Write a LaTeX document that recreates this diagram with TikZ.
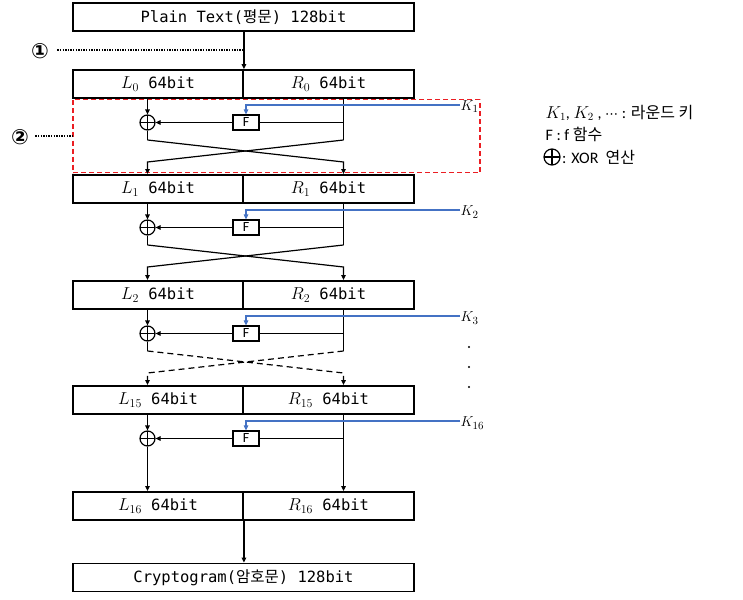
\documentclass[tikz,border=0pt]{standalone}
\usepackage{fontspec}
\setmainfont{Carlito}
\newfontfamily\krfont{Noto Sans CJK KR}
\newfontfamily\monofont{DejaVu Sans Mono}
\newfontfamily\symfont{DejaVu Sans}
\usetikzlibrary{arrows.meta}
\definecolor{keyblue}{RGB}{68,114,196}
\definecolor{boxred}{RGB}{235,30,35}
\newcommand\bigmath[1]{{\fontsize{17}{20}\selectfont$#1$}}
\begin{document}
\begin{tikzpicture}[x=1pt,y=-1pt,line width=1.2pt,
  arr/.style={-{Triangle[length=5pt,width=4.5pt]}},
  half/.style={draw,line width=1.8pt,minimum height=28pt,inner sep=0pt,
    font=\monofont\fontsize{15.5}{18}\selectfont},
  lhalf/.style={half,minimum width=170pt},
  rhalf/.style={half,minimum width=171pt},
  full/.style={half,minimum width=341pt},
  xor/.style={circle,draw,line width=1.2pt,minimum size=15pt,inner sep=0pt,
    path picture={\draw[line width=1.2pt]
      (path picture bounding box.north) -- (path picture bounding box.south)
      (path picture bounding box.west) -- (path picture bounding box.east);}},
  fbox/.style={draw,line width=1.2pt,minimum width=26pt,minimum height=15pt,inner sep=0pt,
    font=\fontsize{14}{15}\selectfont},
  klab/.style={anchor=west,inner sep=0pt,font=\fontsize{15}{17}\selectfont},
  kline/.style={draw=keyblue,line width=1.1pt},
  legend/.style={anchor=west,inner sep=0pt,font=\fontsize{16}{19}\selectfont},
  cnum/.style={inner sep=0pt,font=\symfont\bfseries\fontsize{21}{24}\selectfont},
  dotline/.style={line width=1.3pt,dash pattern=on 1.3pt off 1.3pt},
  vdot/.style={circle,fill,inner sep=0pt,minimum size=2.4pt},
  reddash/.style={draw=boxred,line width=1.2pt,dash pattern=on 5pt off 3pt,
    minimum width=407pt,minimum height=73pt,inner sep=0pt}
]
\useasboundingbox (0,0) rectangle (743,599);

% red dashed frame (round 1)
\node[reddash] (rd) at (276.5,136) {};

% plain text
\node[full] (pt) at (243.5,17) {Plain Text({\krfont 평문}) 128bit};

% L/R boxes
\foreach \n/\t in {0/70,1/175,2/281,15/386,16/492}{
  \node[lhalf] (L\n) at (158,\t+14) {\bigmath{L_{\n}} 64bit};
  \node[rhalf] (R\n) at (328.5,\t+14) {\bigmath{R_{\n}} 64bit};
}

% ciphertext
\node[full] (cg) at (243.5,577.5) {Cryptogram({\krfont 암호문}) 128bit};

\draw[arr] (pt.south -| L0.north east) -- (L0.north east);
\draw[arr] (L16.south east) -- (cg.north -| L16.south east);

% rounds
\foreach \n/\t/\k in {0/70/1,1/175/2,2/281/3,15/386/16}{
  \node[xor] (X\n) at (147.5,\t+52.5) {};
  \node[fbox] (F\n) at (246,\t+52.5) {F};
  \coordinate (B\n) at (343.5,\t+52.5);
  \node[klab] (K\n) at (460,\t+37) {$K_{\k}$};
  \draw[arr] (L\n.south -| X\n) -- (X\n.north);
  \draw (R\n.south -| B\n) -- (B\n) -- (F\n.east);
  \draw[arr] (F\n.west) -- (X\n.east);
  \draw[kline,arr] (K\n.west |- 0,\t+35) -- (F\n |- 0,\t+35) -- (F\n.north);
}

% crossings
\foreach \n/\nn/\t in {0/1/70,1/2/175,2/15/281}{
  \coordinate (la\n) at (147.5,\t+70);
  \coordinate (lb\n) at (147.5,\t+92);
  \coordinate (ra\n) at (343.5,\t+70);
  \coordinate (rb\n) at (343.5,\t+92);
  \draw (X\n.south) -- (la\n);
  \draw (B\n) -- (ra\n);
}
\foreach \n/\nn in {0/1,1/2}{
  \draw[arr] (la\n) -- (rb\n) -- (R\nn.north -| rb\n);
  \draw[arr] (ra\n) -- (lb\n) -- (L\nn.north -| lb\n);
}
\draw[dash pattern=on 6pt off 4pt,arr] (la2) -- (rb2) -- (R15.north -| rb2);
\draw[dash pattern=on 6pt off 4pt,arr] (ra2) -- (lb2) -- (L15.north -| lb2);

% last round
\draw[arr] (X15.south) -- (L16.north -| X15);
\draw[arr] (B15) -- (R16.north -| B15);

% vertical dots
\foreach \i/\y in {1/347,2/367,3/387}{
  \node[vdot] (v\i) at (469,\y) {};
}

% step markers
\node[cnum] (c1) at (40,51) {①};
\coordinate (d1) at (243,50);
\draw[dotline] ([xshift=8pt]c1.east |- d1) -- (d1);
\node[cnum] (c2) at (20,137) {②};
\draw[dotline] ([xshift=6pt]c2.east |- rd.west) -- (rd.west);

% legend
\node[legend] (lg1) at (545,113) {$K_1$, $K_2$ , {\symfont\fontsize{13}{15}\selectfont ⋯} : {\krfont 라운드 키}};
\node[legend] (lg2) at (545,134) {F : f {\krfont 함수}};
\node[xor,minimum size=16pt] (lgx) at (552,157) {};
\node[legend] (lg3) at ([xshift=1pt]lgx.east) {: XOR\ \ {\krfont 연산}};
\end{tikzpicture}
\end{document}
